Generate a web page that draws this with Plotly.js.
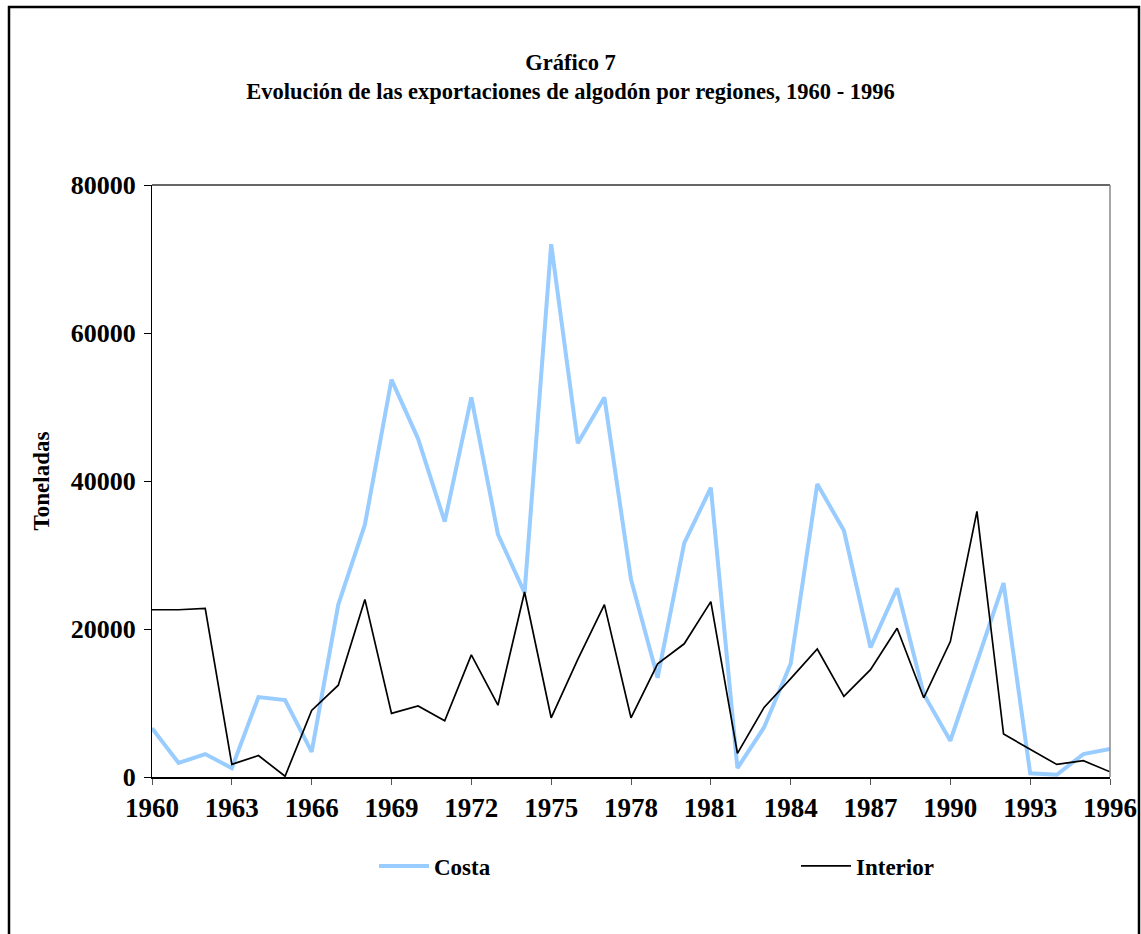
<!DOCTYPE html>
<html>
<head>
<meta charset="utf-8">
<script src="https://cdn.plot.ly/plotly-3.0.1.min.js"></script>
<style>html,body{margin:0;padding:0;background:#fff;}#chart{width:1141px;height:934px;}</style>
</head>
<body>
<div id="chart"></div>
<script>
const years = [1960,1961,1962,1963,1964,1965,1966,1967,1968,1969,1970,1971,1972,1973,1974,1975,1976,1977,1978,
  1979,1980,1981,1982,1983,1984,1985,1986,1987,1988,1989,1990,1991,1992,1993,1994,1995,1996];
const costa = [6600,1900,3100,1200,10800,10400,3400,23300,34100,53700,45700,34500,51300,32800,24900,72000,45100,51300,26700,
  13400,31600,39100,1200,6700,15300,39600,33300,17500,25500,11200,4900,15400,26200,500,300,3100,3800];
const interior = [22600,22600,22800,1700,2900,100,9000,12400,24000,8600,9600,7600,16500,9700,25000,8000,15900,23300,8000,
  15300,18000,23700,3200,9400,13300,17300,10900,14500,20100,10700,18300,35900,5800,3700,1700,2200,700];
const xTicks = [1960,1963,1966,1969,1972,1975,1978,1981,1984,1987,1990,1993,1996];
const yTicks = [0,20000,40000,60000,80000];
const seriesNames = ['Costa','Interior'];
const titleLines = ['Gráfico 7','Evolución de las exportaciones de algodón por regiones, 1960 - 1996'];

const F = 'Liberation Serif, Times New Roman, serif';
const L = {left:152, right:31, top:185, bottom:157};
const W = 1141, H = 934;
const pw = W - L.left - L.right, ph = H - L.top - L.bottom;
const px = v => (v - L.left) / pw;
const py = v => (H - L.bottom - v) / ph;
const legFont = {family:F, size:23, color:'#000', weight:'bold'};

const data = [
  {x: years, y: costa, name: seriesNames[0], type:'scatter', mode:'lines',
   line:{color:'#99CCFF', width:4}, legend:'legend'},
  {x: years, y: interior, name: seriesNames[1], type:'scatter', mode:'lines',
   line:{color:'#000000', width:1.7}, legend:'legend2'}
];

const layout = {
  width: W, height: H,
  margin: {l:L.left, r:L.right, t:L.top, b:L.bottom, pad:0},
  paper_bgcolor:'#fff', plot_bgcolor:'#fff',
  font:{family:F, color:'#000'},
  title:{text:'<b>'+titleLines[0]+'</b><br><b>'+titleLines[1]+'</b>',
    font:{family:F, size:22.5, color:'#000'}, x:0.5, xanchor:'center', y:1-70/H, yanchor:'middle'},
  xaxis:{range:[1960,1996], tickmode:'array', tickvals:xTicks, ticktext:xTicks.map(String),
    showgrid:false, zeroline:false, showline:true, linecolor:'#000', linewidth:2,
    ticks:'outside', ticklen:6, tickcolor:'#555', tickwidth:1,
    tickfont:{family:F, size:27, color:'#000', weight:'bold'}, ticklabelstandoff:0},
  yaxis:{range:[0,80000], tickmode:'array', tickvals:yTicks, ticktext:yTicks.map(String),
    showgrid:false, zeroline:false, showline:true, linecolor:'#000', linewidth:1,
    ticks:'outside', ticklen:7, tickcolor:'#000', tickwidth:1,
    tickfont:{family:F, size:26, color:'#000', weight:'bold'}, ticklabelstandoff:3,
    title:{text:'<b>Toneladas</b>', font:{family:F, size:23, color:'#000'}, standoff:14}},
  showlegend:true,
  legend:{orientation:'h', x:px(374), xanchor:'left', y:py(866), yanchor:'middle',
    font:legFont, itemwidth:50, bgcolor:'rgba(0,0,0,0)'},
  legend2:{orientation:'h', x:px(796), xanchor:'left', y:py(866), yanchor:'middle',
    font:legFont, itemwidth:50, bgcolor:'rgba(0,0,0,0)'},
  shapes:[
    {type:'line', xref:'paper', yref:'paper', x0:0, x1:1, y0:1, y1:1, line:{color:'#333', width:1.5}},
    {type:'line', xref:'paper', yref:'paper', x0:1, x1:1, y0:0, y1:1, line:{color:'#888', width:1.5}},
    {type:'rect', xref:'paper', yref:'paper', x0:px(9), x1:px(1139), y0:py(950), y1:py(7),
     line:{color:'#000', width:2.5}, fillcolor:'rgba(0,0,0,0)', layer:'above'}
  ]
};

Plotly.newPlot('chart', data, layout, {displayModeBar:false, staticPlot:true});
</script>
</body>
</html>
